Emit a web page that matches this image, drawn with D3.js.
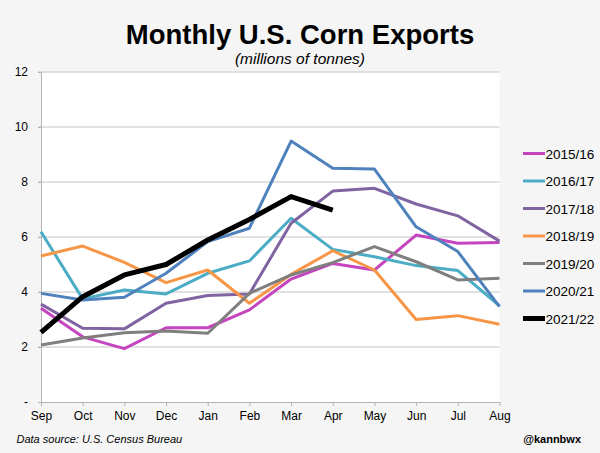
<!DOCTYPE html>
<html>
<head>
<meta charset="utf-8">
<script src="https://cdn.jsdelivr.net/npm/d3@7"></script>
<style>
  html, body { margin: 0; padding: 0; background: #f5f5f5; }
  svg { display: block; font-family: "Liberation Sans", Arial, sans-serif; }
</style>
</head>
<body>
<svg id="chart" width="600" height="453"></svg>
<script>
const months = ["Sep","Oct","Nov","Dec","Jan","Feb","Mar","Apr","May","Jun","Jul","Aug"];
const yTicks = [0, 2, 4, 6, 8, 10, 12];
const seriesNames = ["2015/16","2016/17","2017/18","2018/19","2019/20","2020/21","2021/22"];
const s1516 = [3.41, 2.37, 1.94, 2.70, 2.70, 3.35, 4.47, 5.04, 4.80, 6.07, 5.77, 5.80];
const s1617 = [6.19, 3.75, 4.07, 3.93, 4.68, 5.13, 6.68, 5.55, 5.28, 4.96, 4.78, 3.50];
const s1718 = [3.56, 2.68, 2.66, 3.59, 3.87, 3.93, 6.50, 7.67, 7.77, 7.20, 6.77, 5.85];
const s1819 = [5.31, 5.67, 5.08, 4.34, 4.80, 3.59, 4.64, 5.50, 4.80, 3.00, 3.14, 2.83];
const s1920 = [2.07, 2.33, 2.52, 2.58, 2.50, 3.95, 4.62, 5.07, 5.65, 5.10, 4.44, 4.50];
const s2021 = [3.95, 3.71, 3.81, 4.68, 5.83, 6.32, 9.49, 8.50, 8.47, 6.37, 5.47, 3.47];
const s2122 = [2.53, 3.83, 4.62, 5.00, 5.89, 6.64, 7.47, 6.98];
const seriesValues = [s1516, s1617, s1718, s1819, s1920, s2021, s2122];
const colors = ["#c545bf", "#4bacc6", "#8064a2", "#f79646", "#7f7f7f", "#4f81bd", "#000000"];
const widths = [3, 3, 3, 3, 3, 3, 5];

const svg = d3.select("#chart");
const plotL = 41, plotR = 499.5, plotT = 72, plotB = 402;

const x = d3.scalePoint().domain(months).range([plotL, plotR]);
const y = d3.scaleLinear().domain([0, 12]).range([plotB, plotT]);

// plot background
svg.append("rect").attr("x", plotL).attr("y", plotT)
  .attr("width", plotR - plotL).attr("height", plotB - plotT).attr("fill", "#ffffff");

// gridlines
svg.append("g").selectAll("line").data(yTicks.filter(d => d > 0)).join("line")
  .attr("x1", plotL - 3).attr("x2", plotR)
  .attr("y1", d => y(d)).attr("y2", d => y(d))
  .attr("stroke", "#c4c4c4").attr("stroke-width", 1);

// y axis
const yAxis = svg.append("g").attr("transform", `translate(${plotL},0)`)
  .call(d3.axisLeft(y).tickValues(yTicks).tickSize(3).tickPadding(10)
    .tickFormat(d => d === 0 ? "-" : d));
yAxis.select(".domain").attr("stroke", "#b3b3b3");
yAxis.selectAll(".tick line").attr("stroke", "#b3b3b3");
yAxis.selectAll("text").attr("font-size", 12).attr("fill", "#000")
  .attr("font-family", "Liberation Sans, Arial, sans-serif");

// x axis
const xAxis = svg.append("g").attr("transform", `translate(0,${plotB})`)
  .call(d3.axisBottom(x).tickSize(4).tickPadding(5).tickSizeOuter(0));
xAxis.select(".domain").attr("stroke", "#b3b3b3");
xAxis.selectAll(".tick line").attr("stroke", "#b3b3b3");
xAxis.selectAll("text").attr("font-size", 12).attr("fill", "#000")
  .attr("font-family", "Liberation Sans, Arial, sans-serif");

// lines
const line = d3.line().x((d, i) => x(months[i])).y(d => y(d));
svg.append("g").selectAll("path").data(seriesValues).join("path")
  .attr("d", d => line(d))
  .attr("fill", "none")
  .attr("stroke", (d, i) => colors[i])
  .attr("stroke-width", (d, i) => widths[i])
  .attr("stroke-linejoin", "round");

// legend
const lg = svg.append("g");
seriesNames.forEach((name, i) => {
  const ly = 153.5 + i * 27.5;
  lg.append("line").attr("x1", 523).attr("x2", 545).attr("y1", ly).attr("y2", ly)
    .attr("stroke", colors[i]).attr("stroke-width", widths[i]);
  lg.append("text").attr("x", 545.5).attr("y", ly + 5).attr("font-size", 13.5)
    .attr("fill", "#000").text(name);
});

// titles
svg.append("text").attr("x", 300).attr("y", 44).attr("text-anchor", "middle")
  .attr("font-size", 27.5).attr("font-weight", "bold").attr("fill", "#000")
  .text("Monthly U.S. Corn Exports");
svg.append("text").attr("x", 300).attr("y", 64).attr("text-anchor", "middle")
  .attr("font-size", 15.5).attr("font-style", "italic").attr("fill", "#000")
  .text("(millions of tonnes)");

// footer
svg.append("text").attr("x", 16.5).attr("y", 443).attr("font-size", 11)
  .attr("font-style", "italic").attr("fill", "#000").text("Data source: U.S. Census Bureau");
svg.append("text").attr("x", 581).attr("y", 443).attr("text-anchor", "end").attr("font-size", 11)
  .attr("font-weight", "bold").attr("fill", "#000").text("@kannbwx");
</script>
</body>
</html>
